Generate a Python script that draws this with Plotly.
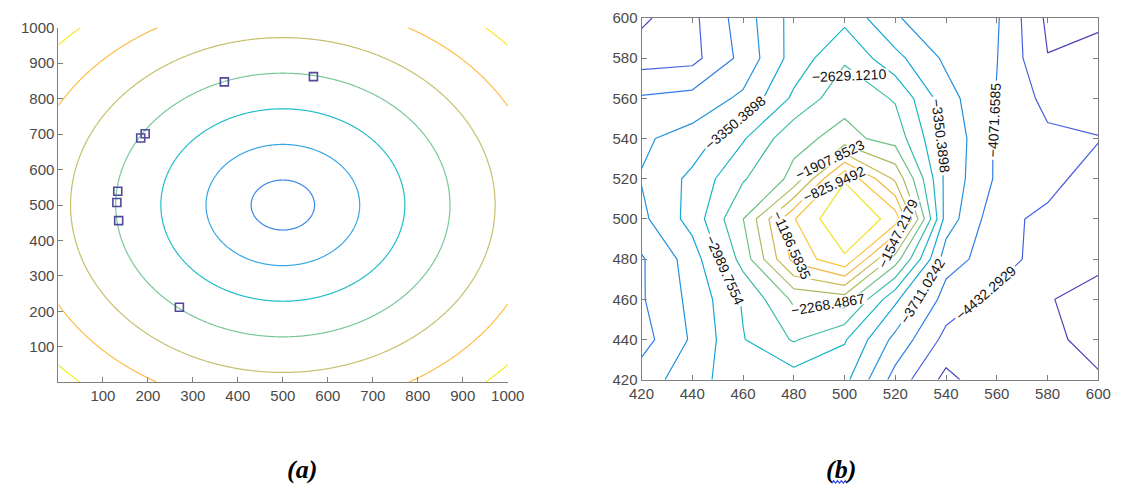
import numpy as np
import plotly.graph_objects as go

# ---------------- panel (a): rings around the source, sensor positions ----------------
a_center_x = 500.0
a_center_y = 500.0
a_ring_start = 70.5          # radius of the innermost ring
a_ring_step = 100.35         # spacing between rings
a_ring_end = 673.0
a_ring_colors = ["#3a86e2", "#38a6e6", "#21bcc8", "#78c896", "#c6bf6c", "#fdbd45", "#f4ea24"]
a_sensor_x = [370, 568, 184, 194, 133, 131, 135, 270]
a_sensor_y = [847, 862, 689, 701, 539, 507, 456, 212]
a_ticks = [100, 200, 300, 400, 500, 600, 700, 800, 900, 1000]

# ---------------- panel (b): objective surface near the optimum ----------------
b_x = [420, 440, 460, 480, 500, 520, 540, 560, 580, 600]
b_y = [420, 440, 460, 480, 500, 520, 540, 560, 580, 600]
# one row per y value (bottom to top), one column per x value
b_z = [
    [-3891.3, -3501.8, -3112.4, -3170.1, -3253.0, -4215.9, -4901.1, -4504.4, -4648.7, -4756.9],
    [-4215.9, -3660.5, -3007.8, -2593.0, -2953.7, -3819.2, -4540.4, -4612.6, -4720.8, -4901.1],
    [-4107.7, -3613.6, -2953.7, -2200.0, -2088.2, -3278.2, -4230.3, -4540.4, -4774.9, -4901.1],
    [-4111.3, -3537.9, -2484.9, -1074.8, -523.0, -2088.2, -3916.6, -4259.2, -4605.4, -4720.8],
    [-3797.6, -3213.3, -2275.7, -847.6, -104.7, -613.2, -3509.1, -4313.3, -4529.6, -4612.6],
    [-3693.0, -3260.2, -2665.2, -2174.7, -501.4, -1619.3, -3458.6, -4125.7, -4288.0, -4648.7],
    [-3765.1, -3566.7, -3025.8, -2365.9, -2160.3, -2412.7, -3422.5, -4125.7, -4360.1, -4407.0],
    [-4028.4, -3949.0, -3638.9, -2917.6, -2376.7, -2665.2, -3566.7, -4089.7, -4540.4, -4720.8],
    [-4594.6, -4544.1, -3963.4, -3202.5, -2683.2, -3242.2, -3783.1, -4060.8, -4782.1, -4468.3],
    [-4865.0, -4518.8, -3887.7, -3216.9, -3083.5, -3685.8, -3891.3, -4032.0, -4865.0, -4973.2],
]
b_level_start = -4792.92729
b_level_step = 360.634375
b_level_end = -465.30
# colours from the lowest level to the highest
b_level_colors = ["#4a45b8", "#4560e0", "#2f7ee6", "#2191dd", "#15a5d8", "#16b5c4", "#38bba6",
                  "#6cc086", "#a5bd62", "#c9b94a", "#f2b93e", "#fbc43c", "#f3e22a"]
b_ticks = [420, 440, 460, 480, 500, 520, 540, 560, 580, 600]

captions = ["<b><i>(a)</i></b>", "<b><i>(b)</i></b>"]


def stepped_scale(colors):
    n = len(colors)
    return [[i / (n - 1), c] for i, c in enumerate(colors)]


AXIS_FONT = dict(family="Liberation Sans, Arial, sans-serif", size=15, color="#4a4a4a")
LINE_COLOR = "#7f7f7f"
W, H = 1129, 492

fig = go.Figure()

# panel (a) rings
grid_a = np.linspace(1, 1000, 501)
gx, gy = np.meshgrid(grid_a, grid_a)
radius = np.hypot(gx - a_center_x, gy - a_center_y)
fig.add_trace(go.Contour(
    x=grid_a, y=grid_a, z=radius,
    xaxis="x", yaxis="y",
    autocontour=False,
    contours=dict(start=a_ring_start, end=a_ring_end, size=a_ring_step,
                  coloring="lines", showlabels=False),
    colorscale=stepped_scale(a_ring_colors),
    showscale=False, line=dict(width=1.2, smoothing=1),
    hoverinfo="skip",
))
fig.add_trace(go.Scatter(
    x=a_sensor_x, y=a_sensor_y, mode="markers",
    xaxis="x", yaxis="y",
    marker=dict(symbol="square-open", size=8, color="#4f4a9c", line=dict(width=1.6, color="#4f4a9c")),
    hoverinfo="skip", showlegend=False,
))

# panel (b) labelled contours
fig.add_trace(go.Contour(
    x=b_x, y=b_y, z=b_z,
    xaxis="x2", yaxis="y2",
    autocontour=False,
    contours=dict(start=b_level_start, end=b_level_end, size=b_level_step,
                  coloring="lines", showlabels=True, labelformat=".4f",
                  labelfont=dict(family="Liberation Sans, Arial, sans-serif", size=14, color="#111111")),
    colorscale=stepped_scale(b_level_colors),
    showscale=False, line=dict(width=1.2, smoothing=0),
    hoverinfo="skip",
))

common_axis = dict(showgrid=False, zeroline=False, showline=True, linecolor=LINE_COLOR, linewidth=1,
                   ticks="inside", ticklen=5, tickcolor=LINE_COLOR, tickfont=AXIS_FONT)

# wavy proofing underline under the second caption
wave_x = np.arange(841, 859, 2)
wave_pts = [(x, 491 if i % 2 == 0 else 488.5) for i, x in enumerate(wave_x)]
wave_path = "M " + " L ".join(f"{x / W:.5f},{1 - y / H:.5f}" for x, y in wave_pts)

fig.update_layout(
    width=W, height=H,
    margin=dict(l=0, r=0, t=0, b=0),
    paper_bgcolor="white", plot_bgcolor="white",
    showlegend=False,
    xaxis=dict(domain=[0.0413, 0.4502], range=[1, 1000], tickvals=a_ticks, anchor="y", **common_axis),
    yaxis=dict(domain=[0.2146, 0.9608], range=[1, 1000], tickvals=a_ticks, anchor="x", **common_axis),
    xaxis2=dict(domain=[0.5719, 0.9876], range=[420, 600], tickvals=b_ticks, anchor="y2",
                mirror="ticks", **common_axis),
    yaxis2=dict(domain=[0.2195, 0.9811], range=[420, 600], tickvals=b_ticks, anchor="x2",
                mirror="ticks", **common_axis),
    annotations=[
        dict(text=captions[0], x=297 / W, y=1 - 477 / H, xref="paper", yref="paper",
             xanchor="center", yanchor="middle", showarrow=False,
             font=dict(family="Liberation Serif, Times New Roman, serif", size=26, color="black")),
        dict(text=captions[1], x=851 / W, y=1 - 477 / H, xref="paper", yref="paper",
             xanchor="center", yanchor="middle", showarrow=False,
             font=dict(family="Liberation Serif, Times New Roman, serif", size=26, color="black")),
    ],
    shapes=[dict(type="path", path=wave_path, xref="paper", yref="paper",
                 line=dict(color="#2a3cf0", width=1.2))],
)

fig.write_html("out.html")
